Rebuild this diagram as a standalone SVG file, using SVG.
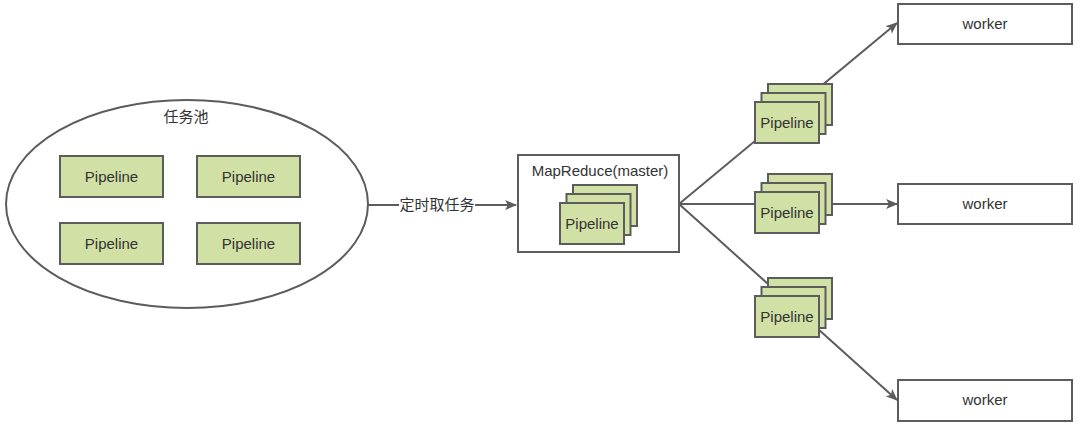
<svg xmlns="http://www.w3.org/2000/svg" width="1080" height="424" viewBox="0 0 1080 424">
<defs>
<style>
text{font-family:"Liberation Sans","Noto Sans CJK SC",sans-serif;font-size:15px;fill:#333;text-anchor:middle}
.p{fill:#d1e0a5;stroke:#5c5c5c;stroke-width:2}
.b{fill:#fff;stroke:#5c5c5c;stroke-width:2}
.c{fill:none;stroke:#5c5c5c;stroke-width:2}
</style>
<marker id="ah" markerWidth="12" markerHeight="10" refX="11" refY="5" orient="auto" markerUnits="userSpaceOnUse">
<path d="M0,0 L12,5 L0,10 L3,5 Z" fill="#5c5c5c"/>
</marker>
<g id="stack">
<rect class="p" x="13" y="-18" width="64" height="41"/>
<rect class="p" x="6.5" y="-9" width="64" height="41"/>
<rect class="p" x="0" y="0" width="64" height="41"/>
<text x="32" y="25.5">Pipeline</text>
</g>
</defs>
<rect width="1080" height="424" fill="#fff"/>
<g id="connectors">
<line class="c" x1="368" y1="205" x2="516" y2="205" marker-end="url(#ah)"/>
<line class="c" x1="679" y1="204" x2="897" y2="23" marker-end="url(#ah)"/>
<line class="c" x1="679" y1="204" x2="897" y2="204" marker-end="url(#ah)"/>
<line class="c" x1="679" y1="204" x2="897" y2="400" marker-end="url(#ah)"/>
<rect x="399" y="195" width="76" height="20" fill="#fff"/>
<text x="437" y="210">定时取任务</text>
</g>
<g id="pool">
<ellipse class="b" cx="187" cy="204" rx="181" ry="104"/>
<text x="186" y="122">任务池</text>
<g id="pool-p1"><rect class="p" x="60" y="156" width="103" height="41"/><text x="111.5" y="181.5">Pipeline</text></g>
<g id="pool-p2"><rect class="p" x="197" y="156" width="103" height="41"/><text x="248.5" y="181.5">Pipeline</text></g>
<g id="pool-p3"><rect class="p" x="60" y="223" width="103" height="41"/><text x="111.5" y="248.5">Pipeline</text></g>
<g id="pool-p4"><rect class="p" x="197" y="223" width="103" height="41"/><text x="248.5" y="248.5">Pipeline</text></g>
</g>
<g id="master">
<rect class="b" x="518" y="155" width="161" height="97"/>
<text x="600" y="176">MapReduce(master)</text>
<use href="#stack" x="560" y="203"/>
</g>
<g id="stack-top"><use href="#stack" x="755" y="102"/></g>
<g id="stack-mid"><use href="#stack" x="755" y="192"/></g>
<g id="stack-bot"><use href="#stack" x="755" y="296"/></g>
<g id="worker1"><rect class="b" x="898" y="4" width="174" height="40"/><text x="985" y="29">worker</text></g>
<g id="worker2"><rect class="b" x="898" y="184" width="174" height="40"/><text x="985" y="209">worker</text></g>
<g id="worker3"><rect class="b" x="898" y="380" width="174" height="41"/><text x="985" y="405">worker</text></g>
</svg>
